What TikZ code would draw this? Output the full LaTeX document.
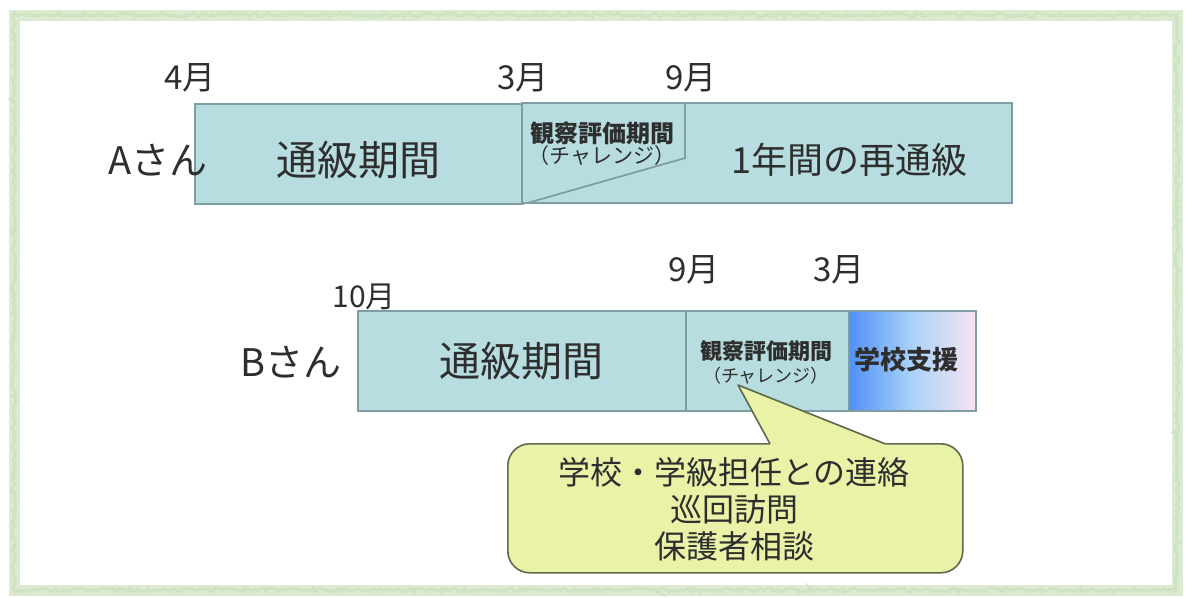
\documentclass[tikz,border=0pt]{standalone}
\usepackage{fontspec}
\setmainfont{Noto Sans CJK JP}
\usetikzlibrary{calc,decorations.pathmorphing}
\definecolor{boxfill}{HTML}{B8DDE0}
\definecolor{boxline}{HTML}{7F9EA4}
\definecolor{frame}{HTML}{DCEAD2}
\definecolor{frame2}{HTML}{CFE2C2}
\definecolor{txt}{HTML}{2E2E2E}
\definecolor{callfill}{HTML}{EAF2A8}
\definecolor{callline}{HTML}{5E6A4E}
\definecolor{gblue}{HTML}{4F8FF5}
\definecolor{gmid}{HTML}{A9D2F8}
\definecolor{gpink}{HTML}{F6E4F2}
\tikzset{
  seg/.style={draw=boxline, fill=boxfill, line width=1.6pt},
  lbl/.style={text=txt, inner sep=0pt, font=\fontsize{#1}{#1}\selectfont},
  month/.style={lbl=33},
}
\begin{document}
\begin{tikzpicture}[x=1pt,y=-1pt]
\useasboundingbox (0,0) rectangle (1185,597);
\fill[white] (0,0) rectangle (1185,597);
% frame
\draw[frame, line width=11pt] (14,15) rectangle (1177,590);
\draw[frame2, line width=3pt, decorate, decoration={random steps, segment length=3pt, amplitude=2pt}] (14,15) rectangle (1177,590);
% ---- A row
\node[seg, minimum width=328pt, minimum height=100pt, anchor=north west, inner sep=0pt] (a1) at (194,103) {};
\node[lbl=41] at (358,160) {通級期間};
\draw[seg] (685,103) -- (1012,103) -- (1012,203) -- (527,203) -- (685,158) -- cycle;
\draw[seg] (522,103) -- (685,103) -- (685,158) -- (527,203) -- (522,203) -- cycle;
\node[lbl=36] (a3) at (849,160) {1年間の再通級};
\node[lbl=24, font=\fontsize{24}{24}\selectfont\bfseries] (a2) at (602,133) {観察評価期間};
\node[lbl=21] at (602,156) {（チャレンジ）};
\node[lbl=38, anchor=east] (an) at (208,160) {Aさん};
\node[month] (m4) at (190,78) {4月};
\node[month] (m3a) at (523,78) {3月};
\node[month] (m9a) at (691,78) {9月};
% ---- B row
\node[seg, minimum width=328pt, minimum height=100pt, anchor=north west, inner sep=0pt] (b1) at (357,310) {};
\node[lbl=41] at (b1.center) {通級期間};
\node[seg, minimum width=163pt, minimum height=100pt, anchor=north west, inner sep=0pt] (b2) at (685,310) {};
\node[lbl=22, font=\fontsize{22}{22}\selectfont\bfseries] at (766,351) {観察評価期間};
\node[lbl=18] at (766,376) {（チャレンジ）};
\path[left color=gblue, right color=gpink, middle color=gmid] (848,310) rectangle (975,410);
\node[draw=boxline, line width=1.6pt, minimum width=127pt, minimum height=100pt, anchor=north west, inner sep=0pt] (b3) at (848,310) {};
\node[lbl=26, font=\fontsize{26}{26}\selectfont\bfseries] at (906,360) {学校支援};
\node[lbl=38, anchor=east] (bn) at (342,362) {Bさん};
\node[lbl=30] (m10) at (364,297) {10月};
\node[month] (m9b) at (694,270) {9月};
\node[month] (m3b) at (839,270) {3月};
% ---- callout
\node[draw=callline, fill=callfill, line width=1.6pt, rounded corners=22pt, minimum width=455pt, minimum height=129pt, anchor=north west, inner sep=0pt] (c) at (507,443) {};
\coordinate (tip) at (738,385);
\fill[callfill] (770,443) -- (tip) -- (885,443) -- (885,452) -- (770,452) -- cycle;
\draw[callline, line width=1.6pt, line join=round] (770,443.8) -- (tip) -- (885,443.8);
\node[lbl=32, align=center, font=\fontsize{32}{37}\selectfont] at (734,509) {学校・学級担任との連絡\\巡回訪問\\保護者相談};
\end{tikzpicture}
\end{document}
